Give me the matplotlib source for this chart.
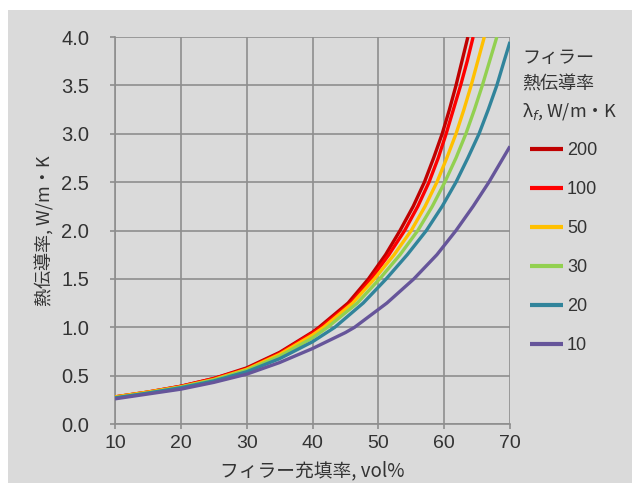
import matplotlib
matplotlib.use("Agg")
import matplotlib.pyplot as plt
from matplotlib.patches import Rectangle

plt.rcParams['font.family'] = ['Noto Sans CJK JP', 'DejaVu Sans']

# Data (filler volume %, thermal conductivity W/m·K)
labels = ['200', '100', '50', '30', '20', '10']
x200 = [10, 15, 20, 25, 30, 35, 40, 41.0, 45.4, 48.5, 51.1, 53.3, 55.3, 57.0, 58.4, 59.7, 60.8, 61.8, 62.7, 63.6]
y200 = [0.28, 0.33, 0.39, 0.47, 0.58, 0.74, 0.95, 1.0, 1.25, 1.5, 1.75, 2.0, 2.25, 2.5, 2.75, 3.0, 3.25, 3.5, 3.75, 4.0]
x100 = [10, 15, 20, 25, 30, 35, 40, 41.3, 45.8, 48.9, 51.6, 54.0, 56.0, 57.7, 59.1, 60.3, 61.4, 62.5, 63.5, 64.4]
y100 = [0.28, 0.33, 0.39, 0.47, 0.57, 0.73, 0.94, 1.0, 1.25, 1.5, 1.75, 2.0, 2.25, 2.5, 2.75, 3.0, 3.25, 3.5, 3.75, 4.0]
x50 = [10, 15, 20, 25, 30, 35, 40, 41.7, 46.1, 49.4, 52.4, 55.0, 57.1, 58.9, 60.4, 61.8, 63.0, 64.1, 65.1, 66.1]
y50 = [0.28, 0.33, 0.385, 0.46, 0.565, 0.72, 0.92, 1.0, 1.25, 1.5, 1.75, 2.0, 2.25, 2.5, 2.75, 3.0, 3.25, 3.5, 3.75, 4.0]
x30 = [10, 15, 20, 25, 30, 35, 40, 42.3, 46.8, 50.2, 53.3, 56.0, 58.2, 60.1, 61.8, 63.3, 64.6, 65.8, 66.9, 68.0]
y30 = [0.27, 0.32, 0.38, 0.455, 0.555, 0.70, 0.89, 1.0, 1.25, 1.5, 1.75, 2.0, 2.25, 2.5, 2.75, 3.0, 3.25, 3.5, 3.75, 4.0]
x20 = [10, 15, 20, 25, 30, 35, 40, 43.4, 47.7, 51.2, 54.4, 57.3, 59.7, 61.8, 63.6, 65.3, 66.7, 68.0, 69.1, 70]
y20 = [0.27, 0.32, 0.375, 0.445, 0.54, 0.675, 0.85, 1.0, 1.25, 1.5, 1.75, 2.0, 2.25, 2.5, 2.75, 3.0, 3.25, 3.5, 3.75, 3.95]
x10 = [10, 15, 20, 25, 30, 35, 40, 45, 46.4, 51.3, 55.4, 58.9, 61.8, 64.4, 66.8, 70]
y10 = [0.26, 0.31, 0.36, 0.43, 0.515, 0.635, 0.78, 0.945, 1.0, 1.25, 1.5, 1.75, 2.0, 2.25, 2.5, 2.87]

xs = [x200, x100, x50, x30, x20, x10]
ys = [y200, y100, y50, y30, y20, y10]
colors = ['#C00000', '#FF0000', '#FFC000', '#92D050', '#31849B', '#66559A']

xticks = [10, 20, 30, 40, 50, 60, 70]
yticks = [0.0, 0.5, 1.0, 1.5, 2.0, 2.5, 3.0, 3.5, 4.0]
title_lines = ['フィラー', '熱伝導率', 'λ$_f$, W/m・K']

W, H = 632, 483
fig = plt.figure(figsize=(W / 100, H / 100), dpi=100, facecolor='white')
bg = '#DADADA'
fig.patches.append(Rectangle((8 / W, 0), 1, 1 - 10 / H, transform=fig.transFigure,
                             facecolor=bg, edgecolor='none', zorder=-10))

ax = fig.add_axes([115 / W, 1 - 424 / H, (510 - 115) / W, (424 - 37) / H])
ax.set_facecolor(bg)
ax.patch.set_alpha(0)

for x, y, c, lab in zip(xs, ys, colors, labels):
    ax.plot(x, y, color=c, lw=2.4, label=lab, solid_capstyle='butt',
            solid_joinstyle='round', zorder=3)

ax.set_xlim(10, 70)
ax.set_ylim(0, 4.0)
ax.set_xticks(xticks)
ax.set_yticks(yticks)
tickfont = ['Liberation Sans', 'DejaVu Sans']
ax.set_xticklabels([str(t) for t in xticks], family=tickfont, fontsize=14)
ax.set_yticklabels([f'{t:.1f}' for t in yticks], family=tickfont, fontsize=14.5)

ax.grid(True, color='#8E8E8E', lw=1.2, zorder=1)
ax.set_axisbelow(True)
for s in ['top', 'right']:
    ax.spines[s].set_visible(False)
for s in ['left', 'bottom']:
    ax.spines[s].set_color('#8E8E8E')
    ax.spines[s].set_linewidth(1.2)
ax.tick_params(direction='out', length=3.6, width=1.2, color='#8E8E8E',
               labelcolor='#333333', pad=4)
ax.tick_params(axis='y', pad=15)

ax.set_xlabel('フィラー充填率, vol%', fontsize=13.5, color='#333333', labelpad=6)
ax.set_ylabel('熱伝導率, W/m・K', fontsize=13, color='#333333', labelpad=5)

for i, t in enumerate(title_lines):
    fig.text(522 / W, 1 - (58 + 26.5 * i) / H, t, fontsize=13, color='#333333',
             ha='left', va='center')

leg = ax.legend(loc='upper left', bbox_to_anchor=(530 / W, 1 - 142 / H),
                bbox_transform=fig.transFigure, frameon=False,
                prop={'family': ['Liberation Sans', 'DejaVu Sans'], 'size': 13},
                handlelength=1.85, handletextpad=0.2,
                labelspacing=1.22, borderaxespad=0, borderpad=0)
for t in leg.get_texts():
    t.set_color('#333333')
for l in leg.get_lines():
    l.set_linewidth(3)

fig.savefig('out.png', dpi=100, facecolor='white')
